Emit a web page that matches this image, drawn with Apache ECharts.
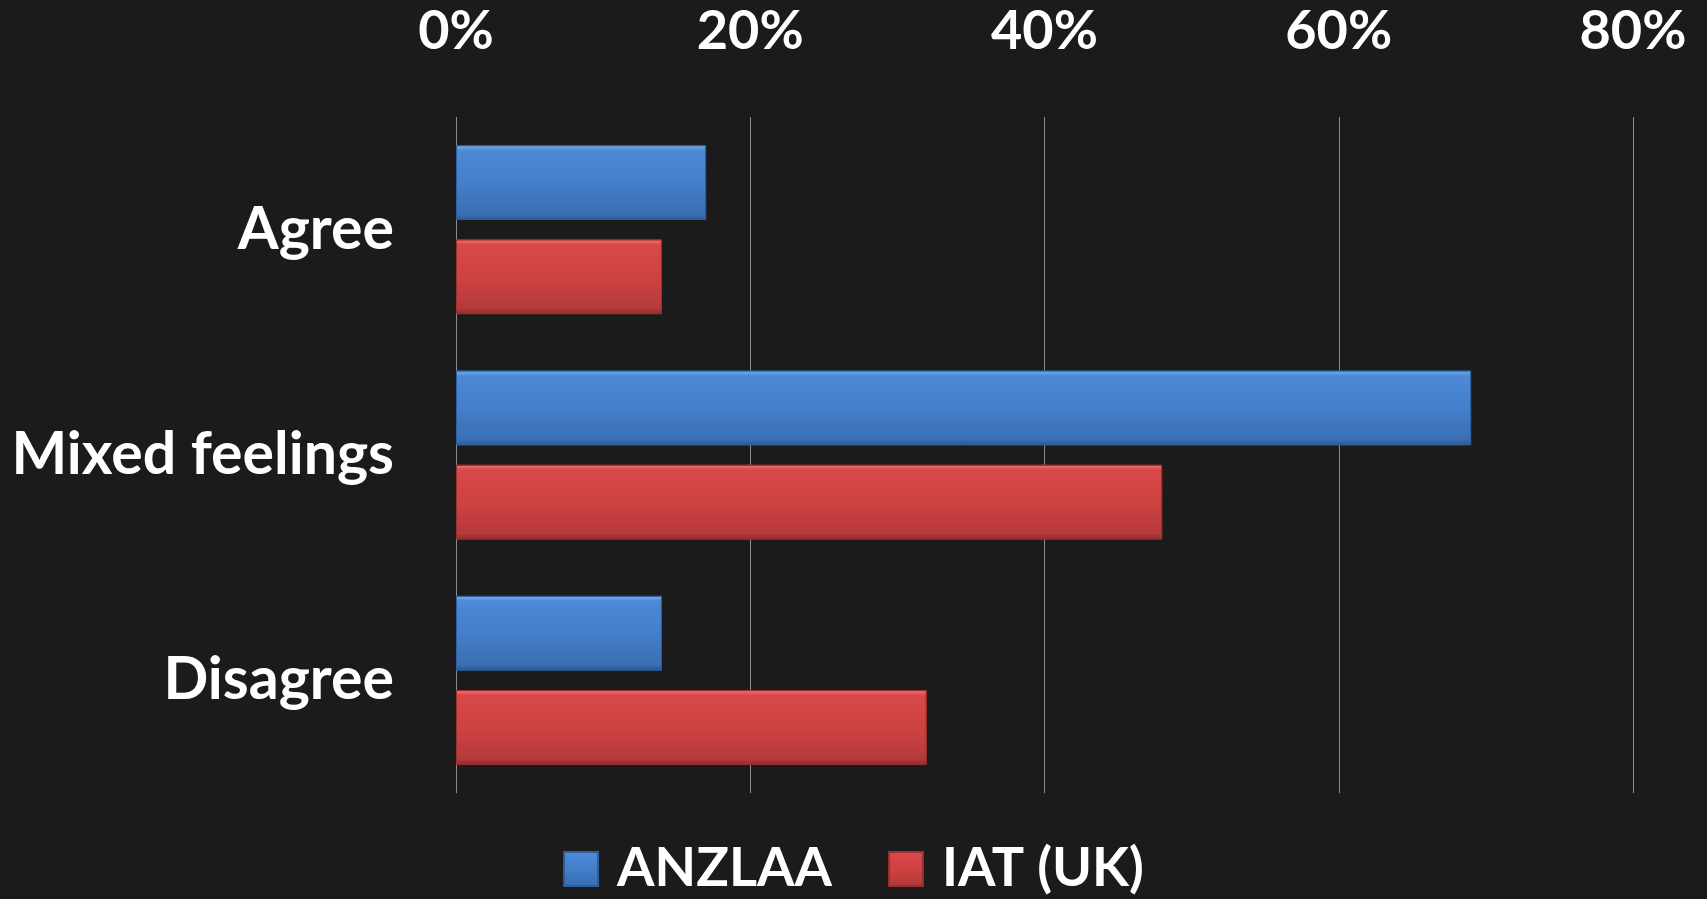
<!DOCTYPE html>
<html>
<head>
<meta charset="utf-8">
<script src="https://cdn.jsdelivr.net/npm/echarts@6/dist/echarts.min.js"></script>
<style>
  html, body { margin: 0; padding: 0; background: #1b1b1b; }
  #chart { width: 1707px; height: 899px; }
</style>
</head>
<body>
<div id="chart"></div>
<script>
var categories = ['Agree', 'Mixed feelings', 'Disagree'];
var anzlaa = [17, 69, 14];
var iatUk = [14, 48, 32];
var tickLabels = ['0%', '20%', '40%', '60%', '80%'];

var chart = echarts.init(document.getElementById('chart'));

// bevel-ish gradients
var blueFill = new echarts.graphic.LinearGradient(0, 0, 0, 1, [
    {offset: 0, color: '#78b4f2'},
    {offset: 0.07, color: '#4d8ad6'},
    {offset: 0.5, color: '#437fca'},
    {offset: 0.92, color: '#3a6fb4'},
    {offset: 1, color: '#2c5890'}
]);
var redFill = new echarts.graphic.LinearGradient(0, 0, 0, 1, [
    {offset: 0, color: '#f37a7a'},
    {offset: 0.07, color: '#d84848'},
    {offset: 0.5, color: '#cf4242'},
    {offset: 0.92, color: '#b53a3a'},
    {offset: 1, color: '#8e2c2c'}
]);

var option = {
    backgroundColor: '#1b1b1b',
    textStyle: {fontFamily: 'Lato', fontWeight: 'bold'},
    grid: {
        left: 456,
        right: 74,
        top: 117,
        bottom: 106
    },
    legend: {
        bottom: -2,
        left: 'center',
        itemWidth: 34,
        itemHeight: 34,
        itemGap: 56,
        icon: 'rect',
        textStyle: {color: '#fff', fontSize: 54, fontWeight: 'bold', fontFamily: 'Lato', padding: [0, 0, 0, 14]},
        data: ['ANZLAA', 'IAT (UK)']
    },
    xAxis: {
        type: 'value',
        position: 'top',
        min: 0,
        max: 80,
        interval: 20,
        axisLine: {show: false},
        axisTick: {show: false},
        splitLine: {lineStyle: {color: '#8c8c8c', width: 1}},
        axisLabel: {
            color: '#fff',
            fontSize: 54,
            fontWeight: 'bold',
            fontFamily: 'Lato',
            margin: 58,
            formatter: function (v) { return tickLabels[v / 20]; }
        }
    },
    yAxis: {
        type: 'category',
        inverse: true,
        data: categories,
        axisLine: {show: false},
        axisTick: {show: false},
        axisLabel: {
            color: '#fff',
            fontSize: 59,
            fontWeight: 'bold',
            fontFamily: 'Lato',
            margin: 62
        }
    },
    series: [
        {
            name: 'ANZLAA',
            type: 'bar',
            barGap: '26%',
            barCategoryGap: '25%',
            itemStyle: {color: blueFill, borderColor: '#2f5f9c', borderWidth: 1},
            data: anzlaa
        },
        {
            name: 'IAT (UK)',
            type: 'bar',
            itemStyle: {color: redFill, borderColor: '#9c3030', borderWidth: 1},
            data: iatUk
        }
    ]
};

chart.setOption(option);
</script>
</body>
</html>
